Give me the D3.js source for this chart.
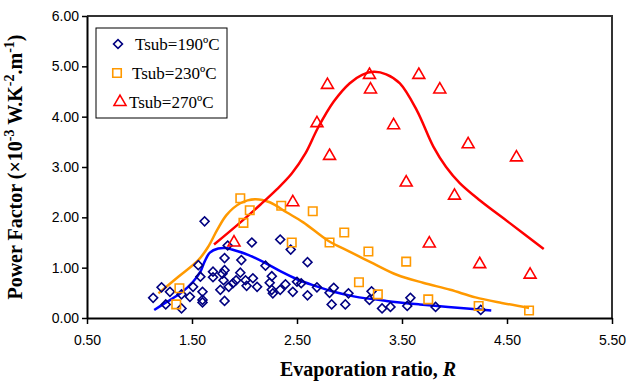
<!DOCTYPE html>
<style>
    body { margin: 0; background: #fff; }
    text { font-family: "Liberation Sans", Arial, sans-serif; }
    .tick text { font-size: 14px; fill: #000; }
    .axis-title { font-family: "Liberation Serif", "Times New Roman", serif; font-weight: bold; font-size: 20px; }
    .legend text { font-family: "Liberation Serif", "Times New Roman", serif; font-size: 17px; }
</style>
<body>
<script src="https://cdn.jsdelivr.net/npm/d3@7"></script>
<script>
// plot box
var margin = {top: 16, right: 15, bottom: 64, left: 87};
var width = 627 - margin.left - margin.right;
var height = 382 - margin.top - margin.bottom;

var xTicks = [0.5, 1.5, 2.5, 3.5, 4.5, 5.5];
var yTicks = [0, 1, 2, 3, 4, 5, 6];

// measured points [R, power factor]
var t190 = [[1.13,0.40],[1.21,0.61],[1.29,0.52],[1.25,0.27],[1.40,0.19],[1.40,0.47],[1.48,0.42],
    [1.51,0.62],[1.58,0.82],[1.60,0.52],[1.60,0.36],[1.60,0.31],[1.56,1.05],[1.62,1.92],[1.70,0.92],
    [1.70,0.81],[1.77,0.56],[1.79,0.88],[1.80,0.75],[1.81,0.95],[1.81,0.34],[1.81,1.19],[1.84,1.44],
    [1.85,0.62],[1.89,0.69],[1.92,0.75],[1.96,0.90],[1.97,1.15],[2.01,0.75],[2.02,0.64],[2.07,1.50],
    [2.08,0.79],[2.12,0.62],[2.20,1.04],[2.24,0.70],[2.26,0.83],[2.26,0.56],[2.27,0.49],[2.34,1.56],
    [2.34,0.56],[2.39,0.67],[2.44,1.36],[2.46,0.52],[2.50,0.72],[2.54,0.69],[2.60,1.11],[2.60,0.45],
    [2.69,0.61],[2.81,0.50],[2.83,0.27],[2.85,0.60],[2.96,0.27],[2.99,0.49],[3.21,0.53],[3.19,0.36],
    [3.31,0.19],[3.39,0.22],[3.58,0.40],[3.55,0.24],[3.82,0.22],[4.25,0.16]];
var t230 = [[1.35,0.27],[1.38,0.59],[1.96,2.38],[1.99,1.89],[2.05,2.14],[2.35,2.23],[2.45,1.50],
    [2.65,2.12],[2.81,1.50],[2.95,1.70],[3.09,0.71],[3.18,1.32],[3.27,0.47],[3.54,1.12],[3.75,0.37],
    [4.23,0.24],[4.71,0.15]];
var t270 = [[1.90,1.50],[2.46,2.30],[2.69,3.87],[2.79,4.63],[2.81,3.22],[3.19,4.83],[3.20,4.54],
    [3.42,3.83],[3.54,2.69],[3.66,4.83],[3.76,1.48],[3.86,4.54],[4.00,2.43],[4.13,3.45],[4.24,1.07],
    [4.59,3.19],[4.72,0.86]];

// fitted trend lines
var fit190 = [[1.14,0.16],[1.26,0.32],[1.39,0.49],[1.51,0.72],[1.58,0.92],[1.62,1.12],[1.67,1.30],
    [1.75,1.38],[1.82,1.39],[1.88,1.36],[2.04,1.25],[2.20,1.09],[2.35,0.92],[2.51,0.76],[2.67,0.64],
    [2.85,0.52],[3.04,0.43],[3.35,0.34],[3.67,0.27],[3.94,0.22],[4.35,0.15]];
var fit230 = [[1.18,0.49],[1.37,0.82],[1.56,1.15],[1.65,1.40],[1.74,1.75],[1.83,2.05],[1.96,2.28],
    [2.10,2.36],[2.24,2.30],[2.40,2.10],[2.56,1.90],[2.80,1.53],[3.00,1.32],[3.23,1.08],[3.45,0.86],
    [3.70,0.70],[3.96,0.56],[4.20,0.41],[4.45,0.30],[4.71,0.20]];
var fit270 = [[1.71,1.46],[1.95,1.88],[2.15,2.25],[2.30,2.54],[2.45,2.87],[2.58,3.27],[2.70,3.78],
    [2.85,4.30],[3.00,4.66],[3.12,4.83],[3.23,4.89],[3.35,4.84],[3.48,4.66],[3.64,4.13],[3.80,3.40],
    [3.92,3.00],[4.05,2.68],[4.24,2.34],[4.53,1.88],[4.85,1.37]];

var x = d3.scaleLinear().domain([0.5, 5.5]).range([0, width]);
var y = d3.scaleLinear().domain([0, 6]).range([height, 0]);

var svg = d3.select("body").append("svg")
    .attr("width", 627).attr("height", 382);
var g = svg.append("g")
    .attr("transform", "translate(" + margin.left + "," + margin.top + ")");

// top / right frame
g.append("path")
    .attr("d", "M0,0H" + width + "V" + height)
    .attr("fill", "none").attr("stroke", "#333").attr("stroke-width", 2);

var line = d3.line()
    .x(function(d) { return x(d[0]); })
    .y(function(d) { return y(d[1]); })
    .curve(d3.curveCatmullRom);

[[fit230, "#ff9900"], [fit190, "#0000ff"], [fit270, "#ff0000"]].forEach(function(s) {
    g.append("path").datum(s[0])
        .attr("d", line)
        .attr("fill", "none")
        .attr("stroke", s[1])
        .attr("stroke-width", 2.5);
});

var diamond = d3.symbol().type(d3.symbolSquare).size(40);
var square = d3.symbol().type(d3.symbolSquare).size(72);
var triangle = d3.symbol().type(d3.symbolTriangle).size(62);

g.selectAll(".d190").data(t190).enter().append("path")
    .attr("d", diamond)
    .attr("transform", function(d) { return "translate(" + x(d[0]) + "," + y(d[1]) + ") rotate(45)"; })
    .attr("fill", "none").attr("stroke", "#000080").attr("stroke-width", 1.6);

g.selectAll(".s230").data(t230).enter().append("path")
    .attr("d", square)
    .attr("transform", function(d) { return "translate(" + x(d[0]) + "," + y(d[1]) + ")"; })
    .attr("fill", "none").attr("stroke", "#ff9900").attr("stroke-width", 1.6);

g.selectAll(".t270").data(t270).enter().append("path")
    .attr("d", triangle)
    .attr("transform", function(d) { return "translate(" + x(d[0]) + "," + y(d[1]) + ")"; })
    .attr("fill", "none").attr("stroke", "#ff0000").attr("stroke-width", 1.6);

// axes
var xAxis = g.append("g")
    .attr("transform", "translate(0," + height + ")")
    .call(d3.axisBottom(x).tickValues(xTicks).tickFormat(d3.format(".2f")).tickSize(6).tickSizeOuter(0));
var yAxis = g.append("g")
    .call(d3.axisLeft(y).tickValues(yTicks).tickFormat(d3.format(".2f")).tickSize(5).tickSizeOuter(0));
[xAxis, yAxis].forEach(function(a) {
    a.select(".domain").attr("stroke", "#000").attr("stroke-width", 2);
    a.selectAll(".tick line").attr("stroke", "#000").attr("stroke-width", 1.5);
    a.selectAll(".tick text").attr("font-family", null).attr("font-size", null);
});
xAxis.selectAll(".tick text").attr("dy", "1.25em");
yAxis.selectAll(".tick text").attr("x", -8);

// axis titles
var xt = svg.append("text").attr("class", "axis-title")
    .attr("x", 368).attr("y", 376).attr("text-anchor", "middle");
xt.append("tspan").text("Evaporation ratio, ");
xt.append("tspan").attr("font-style", "italic").text("R");

var yt = svg.append("text").attr("class", "axis-title")
    .attr("transform", "translate(22," + (margin.top + height / 2) + ") rotate(-90)")
    .attr("text-anchor", "middle");
yt.append("tspan").text("Power Factor (\u00d710");
yt.append("tspan").attr("dy", -8).attr("font-size", 14).text("-3");
yt.append("tspan").attr("dy", 8).text(" W.K");
yt.append("tspan").attr("dy", -8).attr("font-size", 14).text("-2");
yt.append("tspan").attr("dy", 8).text(".m");
yt.append("tspan").attr("dy", -8).attr("font-size", 14).text("-1");
yt.append("tspan").attr("dy", 8).text(")");

// legend
var legendNames = ["Tsub=190\u00baC", "Tsub=230\u00baC", "Tsub=270\u00baC"];
var lg = svg.append("g").attr("class", "legend").attr("transform", "translate(96,28)");
lg.append("rect").attr("width", 131).attr("height", 90)
    .attr("fill", "#fff").attr("stroke", "#000").attr("stroke-width", 1);
var symbols = [
    {sym: diamond, rot: 45, color: "#000080", tx: 39, sx: 22},
    {sym: square, rot: 0, color: "#ff9900", tx: 36, sx: 21},
    {sym: triangle, rot: 0, color: "#ff0000", tx: 33, sx: 24}
];
legendNames.forEach(function(name, i) {
    var cy = 16 + i * 29;
    var s = symbols[i];
    lg.append("path").attr("d", s.sym)
        .attr("transform", "translate(" + s.sx + "," + cy + ") rotate(" + s.rot + ")")
        .attr("fill", "none").attr("stroke", s.color).attr("stroke-width", 1.6);
    lg.append("text").attr("x", s.tx).attr("y", cy + 6).text(name);
});
</script>
</body>
